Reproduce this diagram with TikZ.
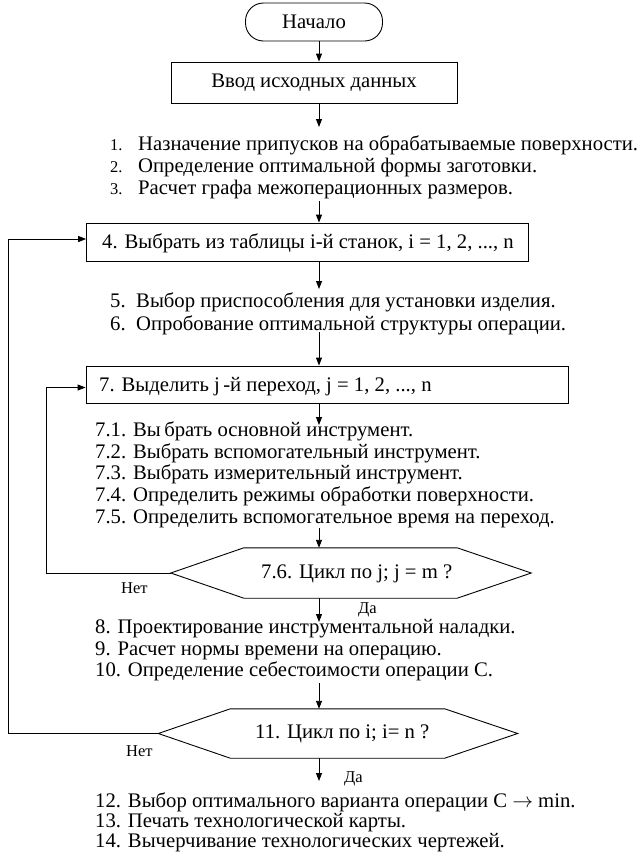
\documentclass[tikz,border=0pt]{standalone}
\usepackage{fontspec}
\setmainfont{Liberation Serif}
\usetikzlibrary{arrows.meta}
\begin{document}
\begin{tikzpicture}[x=1pt,y=-1pt,
  every node/.style={font=\fontsize{20.7}{22}\selectfont},
  box/.style={draw,line width=0.9pt,inner sep=0pt},
  txt/.style={anchor=base west,inner sep=0pt},
  lbl/.style={anchor=base west,inner sep=0pt,font=\fontsize{16.5}{18}\selectfont},
  arr/.style={line width=0.9pt,-{Triangle[length=8pt,width=6pt]}},
  ln/.style={line width=0.9pt}]
\useasboundingbox (0,0) rectangle (644,863);
\coordinate (ax) at (319,0);
% start
\node[box,rounded corners=18pt,minimum width=137pt,minimum height=38pt] (start) at (314,22) {Начало};
\node[box,minimum width=286pt,minimum height=41pt] (input) at (314,82.5) {Ввод исходных данных};
% list 1-3
\node[txt] (t1) at (110,150) {\makebox[28pt][l]{\fontsize{16.5}{18}\selectfont 1.}Назначение припусков на обрабатываемые поверхности.};
\node[txt] (t2) at (110,172) {\makebox[28pt][l]{\fontsize{16.5}{18}\selectfont 2.}Определение оптимальной формы заготовки.};
\node[txt] (t3) at (110,194) {\makebox[28pt][l]{\fontsize{16.5}{18}\selectfont 3.}Расчет графа межоперационных размеров.};
% box 4
\node[box,minimum width=442pt,minimum height=38pt] (b4) at (307.6,242) {};
\node[txt] (b4t) at (102,248) {4. Выбрать из таблицы i-й станок, i = 1, 2, ..., n};
% list 5-6
\node[txt] (t5) at (110,307) {\makebox[26pt][l]{5.}Выбор приспособления для установки изделия.};
\node[txt] (t6) at (110,330) {\makebox[26pt][l]{6.}Опробование оптимальной структуры операции.};
% box 7
\node[box,minimum width=482pt,minimum height=37pt] (b7) at (327,384.5) {};
\node[txt] (b7t) at (99,391) {7. Выделить j\,-й переход, j = 1, 2, ..., n};
% list 7.x
\node[txt] (t71) at (95,436) {7.1. Вы\,брать основной инструмент.};
\node[txt] (t72) at (95,458) {7.2. Выбрать вспомогательный инструмент.};
\node[txt] (t73) at (95,479) {7.3. Выбрать измерительный инструмент.};
\node[txt] (t74) at (95,501) {7.4. Определить режимы обработки поверхности.};
\node[txt] (t75) at (95,523) {7.5. Определить вспомогательное время на переход.};
% hex 7.6
\node[minimum width=360pt,minimum height=50pt,inner sep=0pt] (h1) at (351,573) {};
\draw[ln] (h1.west) -- ([xshift=73pt]h1.north west) -- ([xshift=-74pt]h1.north east) -- (h1.east)
  -- ([xshift=-74pt]h1.south east) -- ([xshift=73pt]h1.south west) -- cycle;
\node[txt] (h1t) at (261,578) {7.6. Цикл по j; j = m ?};
\node[lbl] (no1) at (121,593) {Нет};
\node[lbl] (yes1) at (358,613) {Да};
% list 8-10
\node[txt] (t8) at (95,633) {8. Проектирование инструментальной наладки.};
\node[txt] (t9) at (95,655) {9. Расчет нормы времени на операцию.};
\node[txt] (t10) at (95,676) {10. Определение себестоимости операции C.};
% hex 11
\node[minimum width=359pt,minimum height=49pt,inner sep=0pt] (h2) at (338,733.5) {};
\draw[ln] (h2.west) -- ([xshift=72pt]h2.north west) -- ([xshift=-73pt]h2.north east) -- (h2.east)
  -- ([xshift=-73pt]h2.south east) -- ([xshift=72pt]h2.south west) -- cycle;
\node[txt] (h2t) at (255,738) {11. Цикл по i; i= n ?};
\node[lbl] (no2) at (126,756) {Нет};
\node[lbl] (yes2) at (344,782) {Да};
% list 12-14
\node[txt] (t12) at (95,807) {12. Выбор оптимального варианта операции C $\rightarrow$ min.};
\node[txt] (t13) at (95,827) {13. Печать технологической карты.};
\node[txt] (t14) at (95,847) {14. Вычерчивание технологических чертежей.};
% arrow ends
\coordinate (e1) at (319,127);
\coordinate (s2) at (319,201);
\coordinate (e3) at (319,289);
\coordinate (s4) at (319,332);
\coordinate (e5) at (319,425);
\coordinate (s6) at (319,528);
\coordinate (e7) at (319,622);
\coordinate (s8) at (319,683);
\coordinate (e9) at (319,781);
% arrows
\draw[arr] (start.south -| ax) -- (input.north -| ax);
\draw[arr] (input.south -| ax) -- (e1);
\draw[arr] (s2) -- (b4.north -| ax);
\draw[arr] (b4.south -| ax) -- (e3);
\draw[arr] (s4) -- (b7.north -| ax);
\draw[arr] (b7.south -| ax) -- (e5);
\draw[arr] (s6) -- (h1.north -| ax);
\draw[arr] (h1.south -| ax) -- (e7);
\draw[arr] (s8) -- (h2.north -| ax);
\draw[arr] (h2.south -| ax) -- (e9);
% loops
\draw[arr] (h1.west) -- (46.5,573) |- ([yshift=-3pt]b7.west);
\draw[arr] (h2.west) -- (8.5,733.5) |- ([yshift=3pt]b4.west);
\end{tikzpicture}
\end{document}
